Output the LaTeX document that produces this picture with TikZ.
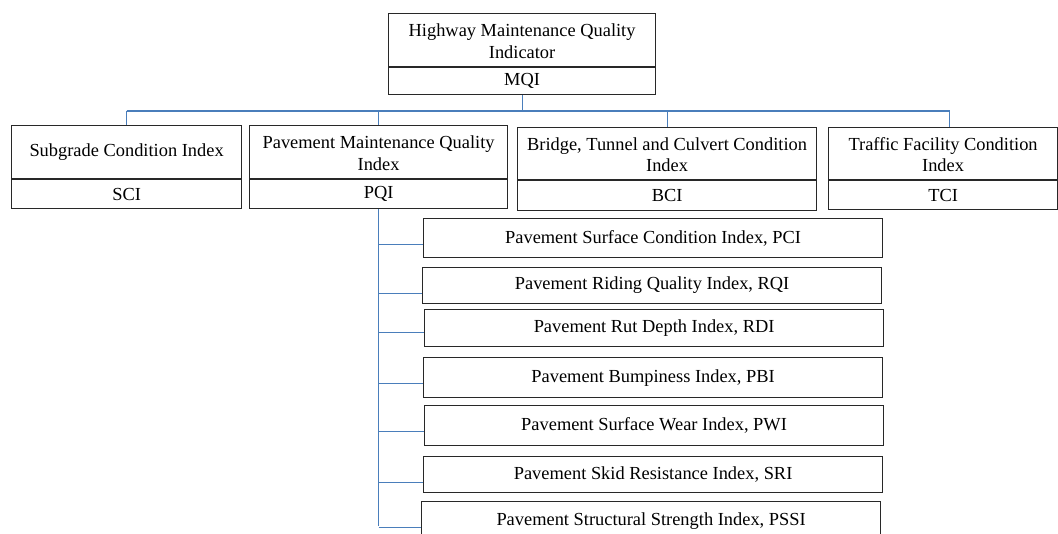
\documentclass[tikz,border=0pt]{standalone}
\usepackage{fontspec}
\setmainfont{Liberation Serif}
\definecolor{linkblue}{RGB}{74,126,187}
\definecolor{boxline}{RGB}{40,40,40}
\tikzset{
  box/.style={draw=boxline, line width=1.2pt, anchor=north west, align=center,
    inner sep=2pt, font=\fontsize{18.4}{21.5}\selectfont},
  link/.style={draw=linkblue, line width=1.2pt},
}
\begin{document}
\begin{tikzpicture}[x=1pt,y=-1pt]
\useasboundingbox (0,0) rectangle (1058,534);

% root
\node[box, minimum width=267pt, minimum height=53pt] (mqi) at (388,13) {\strut Highway Maintenance Quality\\Indicator};
\node[box, minimum width=267pt, minimum height=27pt, anchor=north] (mqiabbr) at (mqi.south) {MQI};

% second level
\node[box, minimum width=230pt, minimum height=53pt] (sci) at (11,125) {\strut Subgrade Condition Index};
\node[box, minimum width=230pt, minimum height=29pt, anchor=north] (sciabbr) at (sci.south) {SCI};

\node[box, minimum width=258pt, minimum height=53pt] (pqi) at (249,125) {\strut Pavement Maintenance Quality\\Index};
\node[box, minimum width=258pt, minimum height=29pt, anchor=north] (pqiabbr) at (pqi.south) {PQI};

\node[box, minimum width=299pt, minimum height=52pt] (bci) at (517,127) {\strut Bridge, Tunnel and Culvert Condition\\Index};
\node[box, minimum width=299pt, minimum height=30pt, anchor=north] (bciabbr) at (bci.south) {BCI};

\node[box, minimum width=229pt, minimum height=52pt] (tci) at (828,127) {\strut Traffic Facility Condition\\Index};
\node[box, minimum width=229pt, minimum height=29pt, anchor=north] (tciabbr) at (tci.south) {TCI};

% pavement sub-indices
\node[box, minimum width=459pt, minimum height=39pt] (pci) at (423,218) {Pavement Surface Condition Index, PCI};
\node[box, minimum width=459pt, minimum height=36pt] (rqi) at (422,267) {Pavement Riding Quality Index, RQI};
\node[box, minimum width=459pt, minimum height=37pt] (rdi) at (424,309) {Pavement Rut Depth Index, RDI};
\node[box, minimum width=459pt, minimum height=40pt] (pbi) at (423,357) {Pavement Bumpiness Index, PBI};
\node[box, minimum width=459pt, minimum height=40pt] (pwi) at (424,405) {Pavement Surface Wear Index, PWI};
\node[box, minimum width=459pt, minimum height=36pt] (sri) at (423,456) {Pavement Skid Resistance Index, SRI};
\node[box, minimum width=459pt, minimum height=40pt] (pssi) at (421,501) {Pavement Structural Strength Index, PSSI};

% bus below the root
\coordinate (bus) at (0,111);
\coordinate (tcitap) at ([xshift=6.5pt]tci.north);
\draw[link] (mqiabbr.south) -- (mqiabbr.south |- bus);
\draw[link] (sci.north |- bus) -- (tcitap |- bus);
\draw[link] (sci.north |- bus) -- (sci.north);
\draw[link] (pqi.north |- bus) -- (pqi.north);
\draw[link] (bci.north |- bus) -- (bci.north);
\draw[link] (tcitap |- bus) -- (tcitap);

% entry points of the branches on the sub-index boxes
\coordinate (pcitap) at ([yshift=-6.5pt]pci.west);
\coordinate (rqitap) at ([yshift=-8pt]rqi.west);
\coordinate (rditap) at ([yshift=-4.5pt]rdi.west);
\coordinate (pbitap) at ([yshift=-6pt]pbi.west);
\coordinate (pwitap) at ([yshift=-6pt]pwi.west);
\coordinate (sritap) at ([yshift=-8pt]sri.west);
\coordinate (pssitap) at ([yshift=-6pt]pssi.west);

% trunk under PQI with branches
\coordinate (trunkend) at (0,526);
\draw[link] (pqiabbr.south) -- (pqiabbr.south |- trunkend);
\foreach \t in {pcitap,rqitap,rditap,pbitap,pwitap,sritap,pssitap}
  \draw[link] (pqiabbr.south |- \t) -- (\t);
\end{tikzpicture}
\end{document}
